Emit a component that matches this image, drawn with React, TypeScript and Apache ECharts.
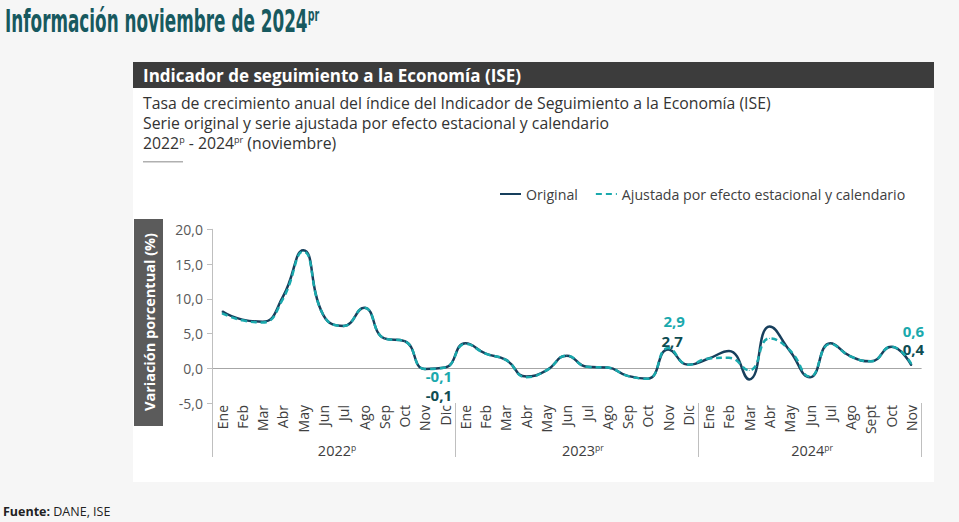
import React, { useEffect, useRef } from 'react';
import * as echarts from 'echarts';

const months = [
  'Ene', 'Feb', 'Mar', 'Abr', 'May', 'Jun', 'Jul', 'Ago', 'Sep', 'Oct', 'Nov', 'Dic',
  'Ene', 'Feb', 'Mar', 'Abr', 'May', 'Jun', 'Jul', 'Ago', 'Sep', 'Oct', 'Nov', 'Dic',
  'Ene', 'Feb', 'Mar', 'Abr', 'May', 'Jun', 'Jul', 'Ago', 'Sept', 'Oct', 'Nov',
];

const original = [
  8.2, 7.0, 6.7, 10.3, 17.0, 7.6, 6.1, 8.7, 4.3, 3.9, -0.1, 0.1,
  3.6, 2.1, 1.2, -1.2, -0.3, 1.8, 0.2, 0.1, -1.1, -1.5, 2.7, 0.5,
  1.4, 2.5, -1.6, 6.0, 2.5, -1.3, 3.6, 1.7, 1.0, 3.1, 0.4,
];

const adjusted = [
  7.9, 6.9, 6.6, 10.0, 16.8, 7.6, 6.1, 8.7, 4.3, 3.9, -0.1, 0.1,
  3.5, 2.1, 1.2, -1.3, -0.3, 1.8, 0.2, 0.1, -1.1, -1.5, 2.9, 0.5,
  1.4, 1.5, -0.3, 4.3, 2.6, -1.2, 3.5, 1.7, 1.0, 3.1, 0.6,
];

const years = ['2022', '2023', '2024'];
const yearMarks = ['p', 'pr', 'pr'];
const yearStartIdx = [0, 12, 24];
const yearLabelIdx = [5, 17, 29];
const labeledIdx = [10, 22, 34];

const seriesNames = ['Original', 'Ajustada por efecto estacional y calendario'];

const FONT = "'Open Sans', 'Noto Sans', sans-serif";
const NARROW = "'Liberation Sans Narrow', 'Arial Narrow', 'DejaVu Sans Condensed', sans-serif";
const C_ORIG = '#173f5c';
const C_ADJ = '#1aa9ad';
const C_ORIG_LBL = '#0e4d52';

const fmt = (v: number) => v.toFixed(1).replace('.', ',');

// label offsets (px) relative to each labeled point, by position in labeledIdx
const origOffsets = [[14, 26.5], [4, -9], [2, -16]];
const adjOffsets = [[14, 7], [6, -27], [2, -33]];

function buildData(values: number[], offsets: number[][], color: string) {
  return values.map((v, i) => {
    const k = labeledIdx.indexOf(i);
    if (k < 0) return v;
    return {
      value: v,
      label: {
        show: true,
        position: 'inside',
        offset: offsets[k],
        formatter: () => fmt(v),
        color,
        fontFamily: FONT,
        fontWeight: 'bold',
        fontSize: 15,
        lineHeight: 15,
      },
    };
  });
}

export default function App() {
  const ref = useRef<HTMLDivElement>(null);

  useEffect(() => {
    if (!ref.current) return;
    const chart = echarts.init(ref.current, undefined, { renderer: 'svg' });

    const option: any = {
      animation: false,
      backgroundColor: '#f6f6f6',
      textStyle: { fontFamily: FONT },
      graphic: [
        { type: 'rect', z: -10, silent: true, shape: { x: 133, y: 62, width: 801, height: 420 }, style: { fill: '#ffffff' } },
        { type: 'rect', z: -9, silent: true, shape: { x: 133, y: 62, width: 801, height: 26 }, style: { fill: '#3c3c3c' } },
        {
          type: 'text', x: 143, y: 75.5, silent: true,
          style: { text: 'Indicador de seguimiento a la Economía (ISE)', fill: '#ffffff', font: `bold 17px ${FONT}`, verticalAlign: 'middle' },
        },
        {
          type: 'text', x: 5, y: 21, scaleX: 0.585, silent: true,
          style: {
            text: '{t|Información noviembre de 2024}{s|pr}',
            verticalAlign: 'middle',
            rich: {
              t: { fill: '#17595f', fontFamily: NARROW, fontWeight: 'bold', fontSize: 32 },
              s: { fill: '#17595f', fontFamily: NARROW, fontWeight: 'bold', fontSize: 18, verticalAlign: 'top' },
            },
          },
        },
        {
          type: 'text', x: 143, y: 103, silent: true,
          style: { text: 'Tasa de crecimiento anual del índice del Indicador de Seguimiento a la Economía (ISE)', fill: '#333333', font: `15.8px ${FONT}`, verticalAlign: 'middle' },
        },
        {
          type: 'text', x: 143, y: 123, silent: true,
          style: { text: 'Serie original y serie ajustada por efecto estacional y calendario', fill: '#333333', font: `15.8px ${FONT}`, verticalAlign: 'middle' },
        },
        {
          type: 'text', x: 143, y: 143, silent: true,
          style: {
            text: '{a|2022}{s|p}{a| - 2024}{s|pr}{a| (noviembre)}',
            verticalAlign: 'middle',
            rich: {
              a: { fill: '#333333', fontFamily: FONT, fontSize: 15.8 },
              s: { fill: '#333333', fontFamily: FONT, fontSize: 9, verticalAlign: 'top' },
            },
          },
        },
        { type: 'rect', silent: true, shape: { x: 143, y: 161, width: 40, height: 1.5 }, style: { fill: '#b0b0b0' } },
        { type: 'rect', silent: true, shape: { x: 134, y: 219, width: 29, height: 207 }, style: { fill: '#5b5b5b' } },
        {
          type: 'text', x: 149, y: 322, rotation: Math.PI / 2, silent: true,
          style: { text: 'Variación porcentual (%)', fill: '#ffffff', font: `bold 14.5px ${FONT}`, align: 'center', verticalAlign: 'middle' },
        },
        {
          type: 'text', x: 3, y: 511, silent: true,
          style: {
            text: '{b|Fuente:}{a| DANE, ISE}',
            verticalAlign: 'middle',
            rich: {
              b: { fill: '#222222', fontFamily: FONT, fontWeight: 'bold', fontSize: 12.5 },
              a: { fill: '#222222', fontFamily: FONT, fontSize: 12.5 },
            },
          },
        },
      ],
      legend: {
        data: seriesNames,
        left: 499,
        top: 187,
        padding: 0,
        itemWidth: 21,
        itemHeight: 12,
        itemGap: 17,
        itemStyle: { opacity: 0 },
        textStyle: { fontFamily: FONT, fontSize: 14.2, color: '#404040' },
      },
      grid: { left: 212, right: 37.4, top: 229.3, bottom: 119, containLabel: false },
      xAxis: [
        {
          type: 'category',
          data: months,
          boundaryGap: true,
          axisLine: { show: false },
          axisTick: { show: false },
          axisLabel: { interval: 0, rotate: 90, margin: 2, fontSize: 14, color: '#404040', fontFamily: FONT },
        },
        {
          type: 'category',
          data: months,
          position: 'bottom',
          boundaryGap: true,
          axisLine: { show: false },
          axisTick: {
            show: true,
            interval: (i: number) => yearStartIdx.includes(i),
            length: 54,
            lineStyle: { color: '#bfbfbf', width: 1 },
          },
          axisLabel: {
            interval: (i: number) => yearLabelIdx.includes(i),
            margin: 40,
            formatter: (_v: string, i: number) => {
              const k = yearLabelIdx.indexOf(i);
              if (k < 0) return '';
              const sp = k === 0 ? 'sp0' : k === 1 ? 'sp1' : 'sp2';
              return `{${sp}|}{y|${years[k]}}{s|${yearMarks[k]}}`;
            },
            rich: {
              sp0: { width: 27 },
              sp1: { width: 32 },
              sp2: { width: 4 },
              y: { fontSize: 14.5, color: '#404040', fontFamily: FONT },
              s: { fontSize: 8.5, color: '#404040', fontFamily: FONT, verticalAlign: 'top' },
            },
          },
        },
      ],
      yAxis: {
        type: 'value',
        min: -5,
        max: 20,
        interval: 5,
        axisLine: { show: true, lineStyle: { color: '#bfbfbf', width: 1 } },
        axisTick: { show: true, length: 5, lineStyle: { color: '#bfbfbf' } },
        axisLabel: { formatter: (v: number) => fmt(v), margin: 9, fontSize: 14, color: '#595959', fontFamily: FONT },
        splitLine: {
          show: true,
          lineStyle: { color: ['rgba(0,0,0,0)', '#a6a6a6', 'rgba(0,0,0,0)', 'rgba(0,0,0,0)', 'rgba(0,0,0,0)', 'rgba(0,0,0,0)'], width: 1 },
        },
      },
      series: [
        {
          name: seriesNames[0],
          type: 'line',
          data: buildData(original, origOffsets, C_ORIG_LBL),
          smooth: 0.5,
          symbol: 'circle',
          symbolSize: 1,
          showSymbol: true,
          showAllSymbol: true,
          lineStyle: { color: C_ORIG, width: 2.5 },
          itemStyle: { color: C_ORIG },
          emphasis: { disabled: true },
          z: 2,
        },
        {
          name: seriesNames[1],
          type: 'line',
          data: buildData(adjusted, adjOffsets, C_ADJ),
          smooth: 0.5,
          symbol: 'circle',
          symbolSize: 1,
          showSymbol: true,
          showAllSymbol: true,
          lineStyle: { color: C_ADJ, width: 2.5, type: [6, 4] },
          itemStyle: { color: C_ADJ },
          emphasis: { disabled: true },
          z: 3,
        },
      ],
    };

    chart.setOption(option);
    return () => chart.dispose();
  }, []);

  return (
    <div style={{ position: 'fixed', left: 0, top: 0, width: 959, height: 522 }}>
      <div ref={ref} style={{ width: 959, height: 522 }} />
    </div>
  );
}
